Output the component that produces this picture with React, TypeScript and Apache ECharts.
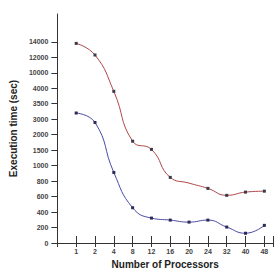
import React, { useEffect, useRef } from "react";
import * as echarts from "echarts";

const processors = ["1", "2", "4", "8", "12", "16", "20", "24", "32", "40", "48"];
const yTickValues = [0, 200, 400, 600, 800, 1000, 1500, 2000, 3000, 3500, 4000, 10000, 12000, 14000];
const redTimes = [13800, 12300, 3900, 1790, 1525, 848, 774, 706, 616, 658, 670];
const redHidden = [false, false, false, false, false, false, true, false, false, false, false];
const blueTimes = [3200, 2790, 912, 456, 322, 296, 270, 296, 206, 126, 228];

// map a real time value to its position on the (uneven) tick scale
function toIdx(v: number): number {
  for (let i = 0; i < yTickValues.length - 1; i++) {
    const a = yTickValues[i], b = yTickValues[i + 1];
    if (v <= b) return i + (v - a) / (b - a);
  }
  return yTickValues.length - 1;
}

const FONT = "Liberation Sans, Arial, sans-serif";

export default function App() {
  const ref = useRef<HTMLDivElement>(null);
  useEffect(() => {
    const chart = echarts.init(ref.current!, null, { renderer: "svg" });
    const xMax = 11.46;
    const option: any = {
      animation: false,
      backgroundColor: "#fff",
      grid: { left: 41, top: 14, right: 0, bottom: 33 },
      xAxis: [
        {
          type: "value",
          min: 0,
          max: xMax,
          interval: 1,
          splitLine: { show: false },
          axisLine: { lineStyle: { color: "#333", width: 1 } },
          axisTick: { inside: true, length: 7, lineStyle: { color: "#333" } },
          axisLabel: { show: false },
        },
        {
          type: "value",
          position: "bottom",
          min: 0,
          max: xMax,
          interval: 1,
          splitLine: { show: false },
          axisLine: { lineStyle: { color: "#333", width: 1 } },
          axisTick: { inside: false, length: 4, lineStyle: { color: "#333" } },
          axisLabel: {
            margin: 5,
            fontSize: 7,
            fontWeight: "bold",
            color: "#444",
            fontFamily: FONT,
            formatter: (v: number) => (v >= 1 && v <= processors.length ? processors[v - 1] : ""),
          },
          name: "Number of Processors",
          nameLocation: "middle",
          nameGap: 16,
          nameTextStyle: { fontSize: 10, fontWeight: "bold", color: "#222", fontFamily: FONT },
        },
      ],
      yAxis: {
        type: "value",
        min: 0,
        max: 14.8,
        interval: 1,
        splitLine: { show: false },
        axisLine: { show: true, lineStyle: { color: "#333", width: 1 } },
        axisTick: {
          show: true,
          length: 6,
          customValues: yTickValues.map((_, i) => i),
          lineStyle: { color: "#333" },
        },
        axisLabel: {
          margin: 9,
          fontSize: 7,
          fontWeight: "bold",
          color: "#444",
          fontFamily: FONT,
          customValues: yTickValues.map((_, i) => i),
          formatter: (v: number) => (v >= 0 && v < yTickValues.length ? String(yTickValues[v]) : ""),
        },
        name: "Execution time (sec)",
        nameLocation: "middle",
        nameGap: 29,
        nameTextStyle: { fontSize: 10, fontWeight: "bold", color: "#222", fontFamily: FONT },
      },
      series: [
        {
          type: "line",
          smooth: 0.5,
          symbol: "rect",
          symbolSize: 3,
          itemStyle: { color: "#3a3a4a" },
          lineStyle: { color: "#b04848", width: 1 },
          data: redTimes.map((v, i) =>
            redHidden[i]
              ? { value: [i + 1, toIdx(v)], symbol: "none" }
              : { value: [i + 1, toIdx(v)] }
          ),
        },
        {
          type: "line",
          smooth: 0.5,
          symbol: "rect",
          symbolSize: 3,
          itemStyle: { color: "#2a2a55" },
          lineStyle: { color: "#4a4aa8", width: 1 },
          data: blueTimes.map((v, i) => [i + 1, toIdx(v)]),
        },
      ],
    };
    chart.setOption(option);
    return () => chart.dispose();
  }, []);
  return <div ref={ref} style={{ width: 276, height: 276, position: "absolute", left: 0, top: 0 }} />;
}
